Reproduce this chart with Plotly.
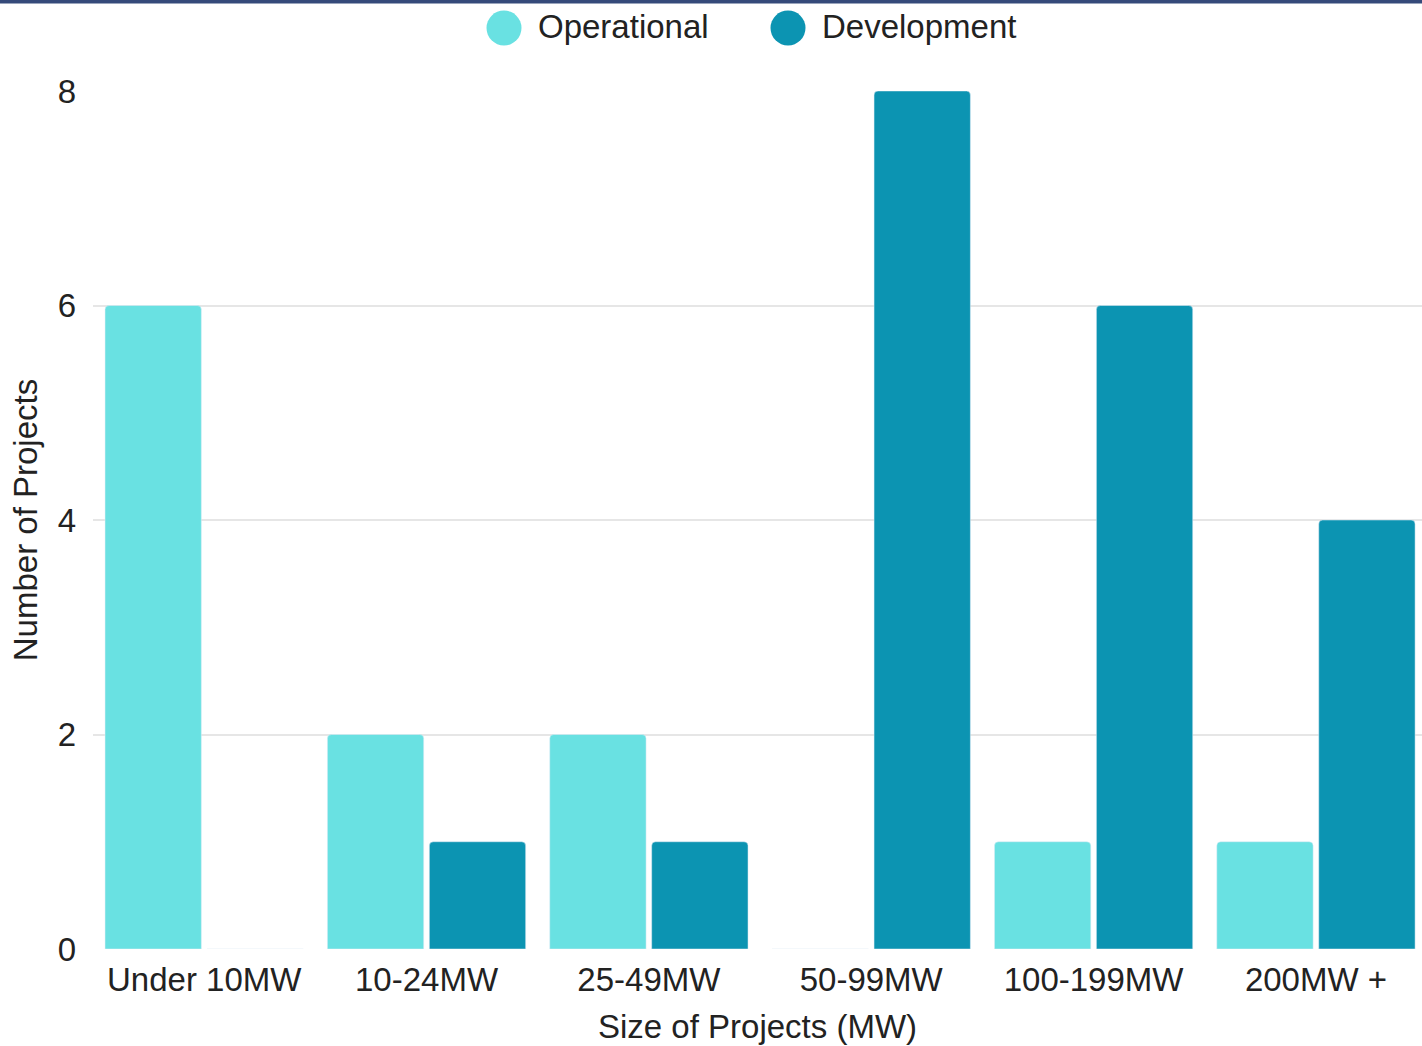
import plotly.graph_objects as go

# Project counts by size band
categories = ["Under 10MW", "10-24MW", "25-49MW", "50-99MW", "100-199MW", "200MW +"]
operational = [6, 2, 2, 0, 1, 1]
development = [0, 1, 1, 8, 6, 4]
y_ticks = [0, 2, 4, 6, 8]

OP_COLOR = "#69e1e2"
DEV_COLOR = "#0c94b2"
TEXT_COLOR = "#222222"
FONT = "Liberation Sans, Arial, sans-serif"
FS = 33

W, H = 1422, 1046
ML, MR, MT, MB = 93, 0, 91, 97
PW, PH = W - ML - MR, H - MT - MB


def px_x(x):
    return (x - ML) / PW


def px_y(y):
    return (H - MB - y) / PH


fig = go.Figure()
fig.add_trace(go.Bar(name="Operational", x=categories, y=operational,
                     marker=dict(color=OP_COLOR, cornerradius=4),
                     showlegend=False))
fig.add_trace(go.Bar(name="Development", x=categories, y=development,
                     marker=dict(color=DEV_COLOR, cornerradius=4),
                     showlegend=False))

# Thin navy rule along the top edge
shapes = [dict(type="rect", xref="paper", yref="paper",
               x0=px_x(-5), x1=px_x(W + 5), y0=px_y(3.5), y1=px_y(-5),
               fillcolor="#354a7a", line=dict(width=0), layer="above")]

# Legend: large round swatches with labels
legend_items = [("Operational", OP_COLOR, 504, 536),
                ("Development", DEV_COLOR, 788, 820)]
annotations = []
for label, color, cx, tx in legend_items:
    r = 17.5
    shapes.append(dict(type="circle", xref="paper", yref="paper",
                       x0=px_x(cx - r), x1=px_x(cx + r),
                       y0=px_y(28 + r), y1=px_y(28 - r),
                       fillcolor=color, line=dict(width=0)))
    annotations.append(dict(text=label, xref="paper", yref="paper",
                            x=px_x(tx), y=px_y(26), xanchor="left", yanchor="middle",
                            showarrow=False,
                            font=dict(family=FONT, size=FS, color=TEXT_COLOR)))

fig.update_layout(
    width=W, height=H,
    margin=dict(l=ML, r=MR, t=MT, b=MB, autoexpand=False),
    paper_bgcolor="white", plot_bgcolor="white",
    barmode="group", bargap=0.083, bargroupgap=0.055,
    showlegend=False,
    shapes=shapes, annotations=annotations,
    font=dict(family=FONT, size=FS, color=TEXT_COLOR),
    xaxis=dict(
        range=[-0.5, 5.477],
        showgrid=False, zeroline=False, showline=False,
        ticks="", ticklabelstandoff=8,
        tickfont=dict(size=FS, color=TEXT_COLOR),
        title=dict(text="Size of Projects (MW)", standoff=17,
                   font=dict(size=FS, color=TEXT_COLOR)),
        automargin=False,
    ),
    yaxis=dict(
        range=[0, 8], tickvals=y_ticks,
        showgrid=True, gridcolor="#e6e6e6", gridwidth=2,
        zeroline=False, showline=False,
        ticks="", ticklabelstandoff=16,
        tickfont=dict(size=FS, color=TEXT_COLOR),
        title=dict(text="Number of Projects", standoff=10,
                   font=dict(size=FS, color=TEXT_COLOR)),
        automargin=False,
    ),
)

fig.write_html("out.html")
